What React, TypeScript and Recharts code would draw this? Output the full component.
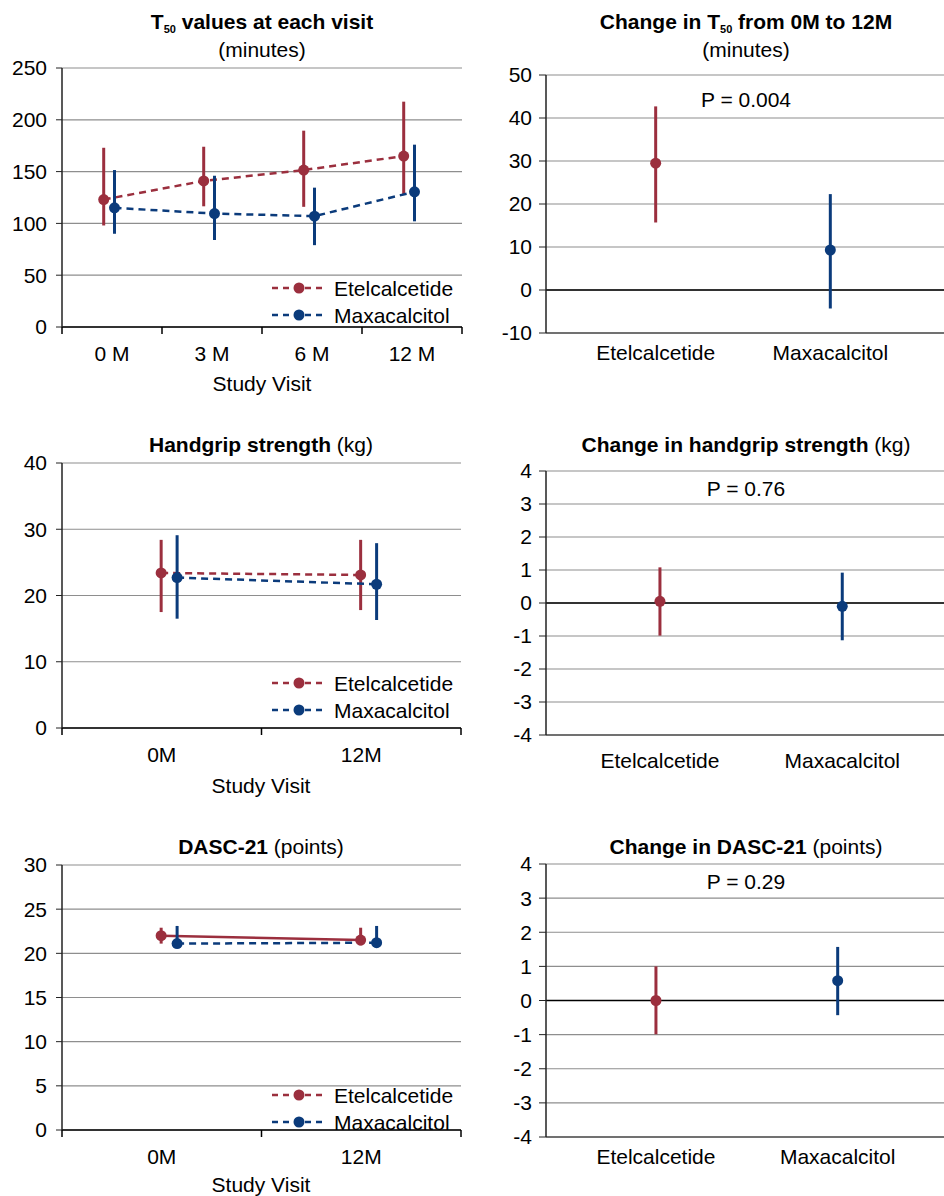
import React from 'react'
import { ComposedChart, Line, XAxis, YAxis, CartesianGrid, ErrorBar, ReferenceLine } from 'recharts'

const RED = '#9b2f3e'
const BLUE = '#0b3b7b'
const GRID = '#8e8e8e'
const FONT = '"Liberation Sans", Arial, Helvetica, sans-serif'

// T50 (minutes) at each visit, mean with 95% CI
const t50Visits = ['0 M', '3 M', '6 M', '12 M']
const t50Etel = [123, 141, 151.5, 165]
const t50EtelLow = [98, 116.5, 116, 128]
const t50EtelHigh = [173, 174, 189.5, 217.5]
const t50Maxa = [115, 109.5, 107, 130.5]
const t50MaxaLow = [90, 84, 79, 102]
const t50MaxaHigh = [151.5, 146, 134.5, 176]
const t50Ticks = [0, 50, 100, 150, 200, 250]

// Handgrip strength (kg)
const gripVisits = ['0M', '12M']
const gripEtel = [23.4, 23.1]
const gripEtelLow = [17.5, 17.8]
const gripEtelHigh = [28.4, 28.4]
const gripMaxa = [22.7, 21.7]
const gripMaxaLow = [16.5, 16.3]
const gripMaxaHigh = [29.1, 27.9]
const gripTicks = [0, 10, 20, 30, 40]

// DASC-21 (points)
const dascVisits = ['0M', '12M']
const dascEtel = [22.0, 21.5]
const dascEtelLow = [21.1, 20.9]
const dascEtelHigh = [22.9, 22.9]
const dascMaxa = [21.1, 21.2]
const dascMaxaLow = [20.7, 20.7]
const dascMaxaHigh = [23.1, 23.1]
const dascTicks = [0, 5, 10, 15, 20, 25, 30]

// change from 0M to 12M
const groups = ['Etelcalcetide', 'Maxacalcitol']
const t50Change = [29.5, 9.3]
const t50ChangeLow = [15.7, -4.3]
const t50ChangeHigh = [42.7, 22.3]
const t50ChangeTicks = [-10, 0, 10, 20, 30, 40, 50]

const gripChange = [0.05, -0.1]
const gripChangeLow = [-0.99, -1.13]
const gripChangeHigh = [1.08, 0.92]

const dascChange = [0.0, 0.58]
const dascChangeLow = [-0.99, -0.43]
const dascChangeHigh = [1.0, 1.57]
const changeTicks = [-4, -3, -2, -1, 0, 1, 2, 3, 4]

const Txt = ({ x, y, children, bold = false, size = 21 }: any) => (
	<div
		style={{
			position: 'absolute',
			left: x,
			top: y,
			transform: 'translate(-50%, -50%)',
			whiteSpace: 'nowrap',
			fontSize: size,
			lineHeight: 1,
			fontWeight: bold ? 'bold' : 'normal',
		}}
	>
		{children}
	</div>
)

const Legend = ({ y1, y2 }: { y1: number; y2: number }) => (
	<>
		{[
			{ name: groups[0], color: RED, y: y1 },
			{ name: groups[1], color: BLUE, y: y2 },
		].map((s) => (
			<div key={s.name}>
				<svg style={{ position: 'absolute', left: 272, top: s.y - 7 }} width={56} height={14}>
					<line x1={0} x2={54} y1={7} y2={7} stroke={s.color} strokeWidth={2.5} strokeDasharray='6 5' />
					<circle cx={27} cy={7} r={5.5} fill={s.color} />
				</svg>
				<div style={{ position: 'absolute', left: 334, top: s.y, transform: 'translateY(-50%)', fontSize: 21, lineHeight: 1 }}>
					{s.name}
				</div>
			</div>
		))}
	</>
)

const toRows = (vals: number[], lo: number[], hi: number[], pos: (i: number) => number) =>
	vals.map((v, i) => ({ x: pos(i), y: v, err: [v - lo[i], hi[i] - v] }))

//* left column: value at each visit
const VisitChart = (p: any) => {
	const n = p.visits.length
	const xTicks = Array.from({ length: 2 * n + 1 }, (_, k) => k / 2)
	const etelRows = toRows(p.etel, p.etelLow, p.etelHigh, (i) => i + 0.5 + p.shift[0])
	const maxaRows = toRows(p.maxa, p.maxaLow, p.maxaHigh, (i) => i + 0.5 + p.shift[1])
	const tick = ({ x, y, payload }: any) => {
		const v = payload.value
		if (Number.isInteger(v)) return <line x1={x} x2={x} y1={y} y2={y + 7} stroke='#000' strokeWidth={1.5} />
		return (
			<text x={x} y={y + p.labelDy} textAnchor='middle' dominantBaseline='central' fontSize={21} fill='#000'>
				{p.visits[Math.floor(v)]}
			</text>
		)
	}
	return (
		<div style={{ position: 'absolute', left: 0, top: p.top, width: 470, height: p.height }}>
			<ComposedChart width={470} height={p.height} margin={p.margin}>
				<CartesianGrid vertical={false} stroke={GRID} strokeWidth={1.2} />
				<XAxis
					type='number'
					dataKey='x'
					domain={[0, n]}
					ticks={xTicks}
					interval={0}
					tickSize={0}
					tickMargin={0}
					height={40}
					tickLine={false}
					axisLine={{ stroke: '#000', strokeWidth: 1.5 }}
					tick={tick}
				/>
				<YAxis
					type='number'
					domain={[p.yTicks[0], p.yTicks[p.yTicks.length - 1]]}
					ticks={p.yTicks}
					interval={0}
					width={56}
					tickSize={6}
					tickMargin={9}
					axisLine={{ stroke: '#222', strokeWidth: 1.5 }}
					tickLine={{ stroke: '#222' }}
					tick={{ fontSize: 21, fill: '#000' }}
				/>
				<Line
					data={etelRows}
					dataKey='y'
					stroke={RED}
					strokeWidth={2.5}
					strokeDasharray={p.etelSolid ? undefined : '7 5'}
					dot={{ r: 5.5, fill: RED, strokeWidth: 0 }}
					isAnimationActive={false}
				>
					<ErrorBar dataKey='err' direction='y' width={0} stroke={RED} strokeWidth={3} isAnimationActive={false} />
				</Line>
				<Line
					data={maxaRows}
					dataKey='y'
					stroke={BLUE}
					strokeWidth={2.5}
					strokeDasharray='7 5'
					dot={{ r: 5.5, fill: BLUE, strokeWidth: 0 }}
					isAnimationActive={false}
				>
					<ErrorBar dataKey='err' direction='y' width={0} stroke={BLUE} strokeWidth={3} isAnimationActive={false} />
				</Line>
			</ComposedChart>
		</div>
	)
}

//* right column: change from 0M to 12M
const ChangeChart = (p: any) => {
	const etelRows = toRows([p.vals[0]], [p.low[0]], [p.high[0]], () => 1)
	const maxaRows = toRows([p.vals[1]], [p.low[1]], [p.high[1]], () => 2)
	const tick = ({ x, y, payload }: any) => (
		<text x={x} y={y + p.labelDy} textAnchor='middle' dominantBaseline='central' fontSize={21} fill='#000'>
			{groups[payload.value - 1]}
		</text>
	)
	return (
		<div style={{ position: 'absolute', left: 470, top: p.top, width: 474, height: p.height }}>
			<ComposedChart width={474} height={p.height} margin={p.margin}>
				<CartesianGrid vertical={false} stroke={GRID} strokeWidth={1.2} />
				<XAxis
					type='number'
					dataKey='x'
					domain={p.xDomain}
					ticks={[1, 2]}
					interval={0}
					tickSize={0}
					tickMargin={0}
					height={40}
					tickLine={false}
					axisLine={{ stroke: '#555', strokeWidth: 1.5 }}
					tick={tick}
					allowDataOverflow
				/>
				<YAxis
					type='number'
					domain={[p.yTicks[0], p.yTicks[p.yTicks.length - 1]]}
					ticks={p.yTicks}
					interval={0}
					width={70}
					tickSize={7}
					tickMargin={7}
					axisLine={{ stroke: '#222', strokeWidth: 1.5 }}
					tickLine={{ stroke: '#222' }}
					tick={{ fontSize: 21, fill: '#000' }}
				/>
				<ReferenceLine y={0} stroke='#000' strokeWidth={1.5} />
				<Line data={etelRows} dataKey='y' stroke='none' dot={{ r: 5.5, fill: RED, strokeWidth: 0 }} isAnimationActive={false}>
					<ErrorBar dataKey='err' direction='y' width={0} stroke={RED} strokeWidth={3} isAnimationActive={false} />
				</Line>
				<Line data={maxaRows} dataKey='y' stroke='none' dot={{ r: 5.5, fill: BLUE, strokeWidth: 0 }} isAnimationActive={false}>
					<ErrorBar dataKey='err' direction='y' width={0} stroke={BLUE} strokeWidth={3} isAnimationActive={false} />
				</Line>
			</ComposedChart>
		</div>
	)
}

const sub = { fontSize: 11, verticalAlign: '-4px' }

export default function App() {
	return (
		<div style={{ position: 'absolute', left: 0, top: 0, width: 944, height: 1196, background: '#fff', fontFamily: FONT, color: '#000' }}>
			<VisitChart
				top={0}
				height={400}
				margin={{ top: 68, right: 8, bottom: 33, left: 6 }}
				visits={t50Visits}
				etel={t50Etel}
				etelLow={t50EtelLow}
				etelHigh={t50EtelHigh}
				maxa={t50Maxa}
				maxaLow={t50MaxaLow}
				maxaHigh={t50MaxaHigh}
				yTicks={t50Ticks}
				shift={[-0.083, 0.025]}
				labelDy={26}
			/>
			<Txt x={262} y={23} bold>
				T<span style={sub}>50</span> values at each visit
			</Txt>
			<Txt x={262} y={49}>(minutes)</Txt>
			<Txt x={262} y={383}>Study Visit</Txt>
			<Legend y1={288} y2={315} />

			<ChangeChart
				top={0}
				height={400}
				margin={{ top: 75, right: 0, bottom: 27, left: 6 }}
				vals={t50Change}
				low={t50ChangeLow}
				high={t50ChangeHigh}
				yTicks={t50ChangeTicks}
				xDomain={[0.372, 2.651]}
				labelDy={19}
			/>
			<Txt x={746} y={23} bold>
				Change in T<span style={sub}>50</span> from 0M to 12M
			</Txt>
			<Txt x={746} y={49}>(minutes)</Txt>
			<Txt x={746} y={99}>P = 0.004</Txt>

			<VisitChart
				top={400}
				height={400}
				margin={{ top: 63, right: 9, bottom: 32, left: 6 }}
				visits={gripVisits}
				etel={gripEtel}
				etelLow={gripEtelLow}
				etelHigh={gripEtelHigh}
				maxa={gripMaxa}
				maxaLow={gripMaxaLow}
				maxaHigh={gripMaxaHigh}
				yTicks={gripTicks}
				shift={[-0.003, 0.077]}
				labelDy={26}
			/>
			<Txt x={261} y={444}>
				<b>Handgrip strength</b> (kg)
			</Txt>
			<Txt x={261} y={785}>Study Visit</Txt>
			<Legend y1={683} y2={710} />

			<ChangeChart
				top={400}
				height={400}
				margin={{ top: 71, right: 0, bottom: 25, left: 6 }}
				vals={gripChange}
				low={gripChangeLow}
				high={gripChangeHigh}
				yTicks={changeTicks}
				xDomain={[0.375, 2.558]}
				labelDy={25}
			/>
			<Txt x={746} y={444}>
				<b>Change in handgrip strength</b> (kg)
			</Txt>
			<Txt x={746} y={488}>P = 0.76</Txt>

			<VisitChart
				top={800}
				height={396}
				margin={{ top: 65, right: 9, bottom: 26, left: 6 }}
				visits={dascVisits}
				etel={dascEtel}
				etelLow={dascEtelLow}
				etelHigh={dascEtelHigh}
				maxa={dascMaxa}
				maxaLow={dascMaxaLow}
				maxaHigh={dascMaxaHigh}
				yTicks={dascTicks}
				shift={[-0.003, 0.077]}
				labelDy={26}
				etelSolid
			/>
			<Txt x={261} y={846}>
				<b>DASC-21</b> (points)
			</Txt>
			<Txt x={261} y={1184}>Study Visit</Txt>
			<Legend y1={1095} y2={1122} />

			<ChangeChart
				top={800}
				height={396}
				margin={{ top: 64, right: 0, bottom: 19, left: 6 }}
				vals={dascChange}
				low={dascChangeLow}
				high={dascChangeHigh}
				yTicks={changeTicks}
				xDomain={[0.395, 2.585]}
				labelDy={19}
			/>
			<Txt x={746} y={846}>
				<b>Change in DASC-21</b> (points)
			</Txt>
			<Txt x={746} y={881}>P = 0.29</Txt>
		</div>
	)
}
